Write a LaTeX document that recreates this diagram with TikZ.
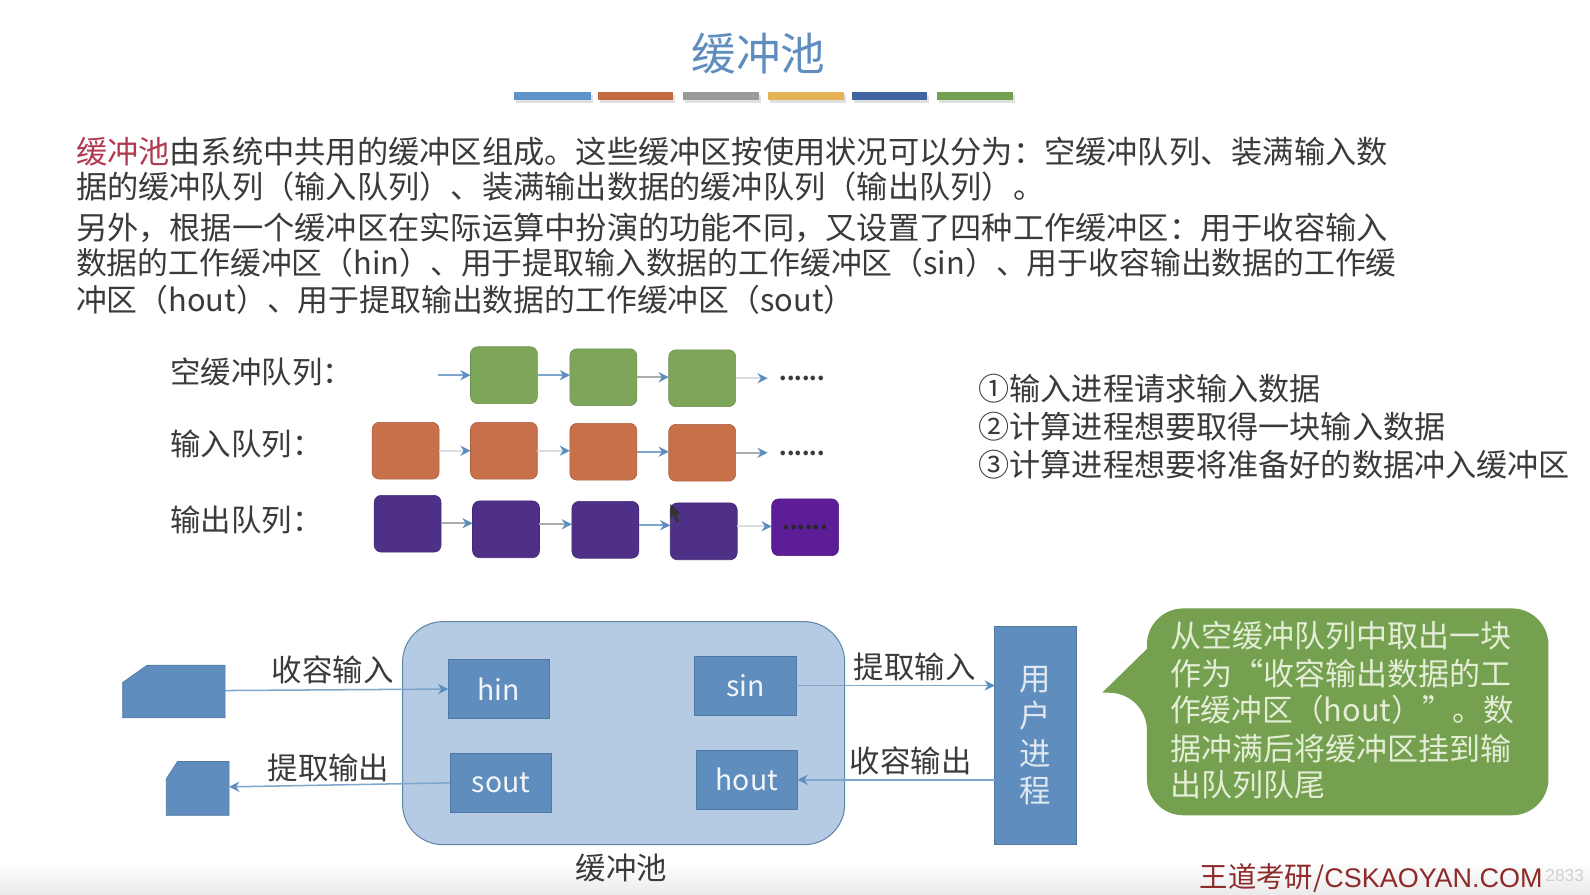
\documentclass[tikz,border=0pt]{standalone}
\usepackage{fontspec}
\setmainfont{Noto Sans CJK SC}
\newfontfamily\wmfont{Liberation Sans}
\usetikzlibrary{arrows.meta}
\definecolor{txt}{HTML}{3A3A3A}
\definecolor{tipblue}{HTML}{5B8DBE}
\definecolor{lineblue}{HTML}{7FA6CC}
\definecolor{linegray}{HTML}{A9ADB2}
\definecolor{linepale}{HTML}{DADDE0}
\definecolor{qgreen}{HTML}{7EA65A}
\definecolor{qorange}{HTML}{C8704A}
\definecolor{qpurple}{HTML}{4F3088}
\definecolor{qpurpleb}{HTML}{5C1D96}
\definecolor{boxblue}{HTML}{5F8DBD}
\definecolor{poolblue}{HTML}{B4CBE3}
\definecolor{pooledge}{HTML}{5F84AB}
\definecolor{calloutg}{HTML}{74A04F}
\definecolor{calltxt}{HTML}{E4EDD6}
\definecolor{redtxt}{HTML}{B03A50}
\definecolor{wmred}{HTML}{8E2A2A}
\definecolor{barone}{HTML}{5F94C6}
\definecolor{bartwo}{HTML}{C46A3F}
\definecolor{barthree}{HTML}{9A9A9A}
\definecolor{barfour}{HTML}{E5B254}
\definecolor{barfive}{HTML}{3F63A3}
\definecolor{barsix}{HTML}{72A24F}
\newcommand{\fs}[1]{\fontsize{#1}{#1}\selectfont}
\newcommand{\zlp}{\symbol{"FF08}}
\newcommand{\zrp}{\symbol{"FF09}}
\newcommand{\zco}{\symbol{"FF1A}}
\newcommand{\zcm}{\symbol{"FF0C}}
\tikzset{
  x=1pt,y=-1pt,
  every node/.style={inner sep=0pt,outer sep=0pt},
  textline/.style={anchor=base west,yshift=-11pt},
  para/.style={textline,text=txt,font=\fs{30.8}},
  parb/.style={textline,text=txt,font=\fs{30.4}},
  qlabel/.style={textline,text=txt,font=\fs{30}},
  note/.style={textline,text=txt,font=\fs{30.7}},
  flow/.style={text=txt,font=\fs{30}},
  calltext/.style={textline,text=calltxt,font=\fs{30.6}},
  qbox/.style={rounded corners=7,minimum width=66,minimum height=56,draw=#1!85!black,line width=.6,fill=#1},
  wbox/.style={minimum width=100,minimum height=58,draw=boxblue!85!black,line width=.6,fill=boxblue,text=white!92!boxblue,font=\fs{28}},
  barshadow/.style={fill=black!12,draw=none},
  qarrow/.style={line width=1.7,draw=#1,-{Stealth[length=10,width=10,color=tipblue]}},
  qarrow/.default=lineblue,
  flowarrow/.style={line width=1.5,draw=lineblue,-{Stealth[length=10,width=10,color=tipblue]}},
  dots/.style={text=txt,font=\bfseries\fs{21}},
}
\begin{document}
\begin{tikzpicture}
\useasboundingbox (0,0) rectangle (1568,882);
\fill[white] (0,0) rectangle (1568,882);
\shade[top color=white,bottom color=black!8,draw=none] (0,850) rectangle (1568,882);

% title
\node[text=boxblue,font=\fs{44}] (title) at (748,53) {缓冲池};
\fill[barshadow] (509,94) rectangle (585,102);
\fill[barshadow] (592,94) rectangle (666,102);
\fill[barshadow] (676,94) rectangle (750,102);
\fill[barshadow] (759,94) rectangle (834,102);
\fill[barshadow] (842,94) rectangle (916,102);
\fill[barshadow] (926,94) rectangle (1001,102);
\fill[barone] (507,91) rectangle (583,99);
\fill[bartwo] (590,91) rectangle (664,99);
\fill[barthree] (674,91) rectangle (748,99);
\fill[barfour] (757,91) rectangle (832,99);
\fill[barfive] (840,91) rectangle (914,99);
\fill[barsix] (924,91) rectangle (999,99);

% paragraphs
\node[para] (p1) at (75,150) {\textcolor{redtxt}{缓冲池}由系统中共用的缓冲区组成。这些缓冲区按使用状况可以分为\zco{}空缓冲队列、装满输入数};
\node[para] (p2) at (75,185) {据的缓冲队列\zlp{}输入队列\zrp{}、装满输出数据的缓冲队列\zlp{}输出队列\zrp{}。};
\node[para] (p3) at (75,225) {另外\zcm{}根据一个缓冲区在实际运算中扮演的功能不同\zcm{}又设置了四种工作缓冲区\zco{}用于收容输入};
\node[parb] (p4) at (75,260) {数据的工作缓冲区\zlp{}hin\zrp{}、用于提取输入数据的工作缓冲区\zlp{}sin\zrp{}、用于收容输出数据的工作缓};
\node[parb] (p5) at (75,296) {冲区\zlp{}hout\zrp{}、用于提取输出数据的工作缓冲区\zlp{}sout\zrp{}};

% queues
\node[qlabel] (l1) at (168,367) {空缓冲队列\zco{}};
\node[qlabel] (l2) at (168,438) {输入队列\zco{}};
\node[qlabel] (l3) at (168,513) {输出队列\zco{}};

\coordinate (gs) at (432,370);
\node[qbox=qgreen] (g1) at (497,370) {};
\node[qbox=qgreen] (g2) at (595,372) {};
\node[qbox=qgreen] (g3) at (692.5,373) {};
\coordinate (ge) at (757,372);
\node[dots] (gd) at (791,373) {......};
\draw[qarrow] (gs) -- (gs -| g1.west);
\draw[qarrow] (g1.east) -- (g1.east -| g2.west);
\draw[qarrow=linegray] (g2.east) -- (g2.east -| g3.west);
\draw[qarrow=linepale] (g3.east) -- (g3.east -| ge);

\node[qbox=qorange] (o1) at (400,444.5) {};
\node[qbox=qorange] (o2) at (497,444.5) {};
\node[qbox=qorange] (o3) at (595,445.5) {};
\node[qbox=qorange] (o4) at (692.5,446.5) {};
\coordinate (oe) at (757,446);
\node[dots] (od) at (791,447) {......};
\draw[qarrow=linepale] (o1.east) -- (o1.east -| o2.west);
\draw[qarrow=linepale] (o2.east) -- (o2.east -| o3.west);
\draw[qarrow] (o3.east) -- (o3.east -| o4.west);
\draw[qarrow=linegray] (o4.east) -- (o4.east -| oe);

\node[qbox=qpurple] (u1) at (402,516.5) {};
\node[qbox=qpurple] (u2) at (499,522) {};
\node[qbox=qpurple] (u3) at (597,522.5) {};
\node[qbox=qpurple] (u4) at (694,524) {};
\node[qbox=qpurpleb] (u5) at (794,520) {};
\node[dots,text=black!85] (ud) at (794,520) {......};
\coordinate (ua) at (435,516);
\coordinate (ub) at (532,517);
\coordinate (uc) at (630,518);
\coordinate (ud2) at (727,519);
\draw[qarrow=linegray] (ua) -- (ua -| u2.west);
\draw[qarrow=linegray] (ub) -- (ub -| u3.west);
\draw[qarrow] (uc) -- (uc -| u4.west);
\draw[qarrow=linepale] (ud2) -- (ud2 -| u5.west);
% mouse cursor
\fill[black!80] (661,497) -- (661,511) -- (664,508) -- (667,515) -- (670,514) -- (667,507) -- (672,507) -- cycle;

% notes
\node[note] (n1) at (965,384) {①输入进程请求输入数据};
\node[note] (n2) at (965,421) {②计算进程想要取得一块输入数据};
\node[note] (n3) at (965,459) {③计算进程想要将准备好的数据冲入缓冲区};

% pool
\node[minimum width=436,minimum height=220,rounded corners=40,fill=poolblue,draw=pooledge,line width=1] (pool) at (615,723) {};
\node[wbox] (hin) at (492,679.5) {hin};
\node[wbox] (sin) at (735,676) {sin};
\node[wbox] (sout) at (494,772) {sout};
\node[wbox] (hout) at (736.5,769) {hout};
\node[minimum width=80,minimum height=215,fill=boxblue,draw=boxblue!85!black,line width=.6,text=white!80!boxblue,font=\fontsize{31}{37}\selectfont,align=center] (user) at (1021,725.5) {\raisebox{-2pt}{用}\\\raisebox{-2pt}{户}\\\raisebox{-2pt}{进}\\\raisebox{-2pt}{程}};
\node[flow,text=txt] (poollabel) at (613,856) {缓冲池};

% devices
\filldraw[fill=boxblue,draw=boxblue!85!black,line width=.6] (121,673) -- (145,656) -- (222,656) -- (222,708) -- (121,708) -- cycle;
\coordinate (dev1) at (222,681);
\filldraw[fill=boxblue,draw=boxblue!85!black,line width=.6] (164,768) -- (175,751) -- (226,751) -- (226,804) -- (164,804) -- cycle;
\coordinate (dev2) at (226,776);

\draw[flowarrow] (dev1) -- (hin.west);
\draw[flowarrow] (sout.west) -- (dev2);
\draw[flowarrow] (sin.east) -- (user.west |- sin.east);
\coordinate (uh) at (user.west |- hout.east);
\draw[flowarrow] (uh) -- (hout.east);

\node[flow] (f1) at (328,661) {收容输入};
\node[flow] (f2) at (324,757) {提取输出};
\node[flow] (f3) at (902,658) {提取输入};
\node[flow] (f4) at (898,750) {收容输出};

% callout
\fill[calloutg] [rounded corners=36] (1131,640) -- (1131,600) -- (1527,600) -- (1527,804) -- (1131,804) -- (1131,684) [sharp corners] -- (1087,683) -- cycle;
\node[calltext] (c1) at (1154,628) {从空缓冲队列中取出一块};
\node[calltext] (c2) at (1154,665) {作为“收容输出数据的工};
\node[calltext,font=\fs{30.3}] (c3) at (1154,701) {作缓冲区\zlp{}hout\zrp{}”。数};
\node[calltext] (c4) at (1154,739) {据冲满后将缓冲区挂到输};
\node[calltext] (c5) at (1154,774) {出队列队尾};

% watermark
\node[anchor=west,text=wmred,font=\fs{28}] (wm) at (1183,866) {王道考研/{\wmfont\fs{26.6}CSKAOYAN.COM}};
\node[text=black!18,font=\wmfont\fs{17}] (wm2) at (1543,863) {2833};
\end{tikzpicture}
\end{document}
